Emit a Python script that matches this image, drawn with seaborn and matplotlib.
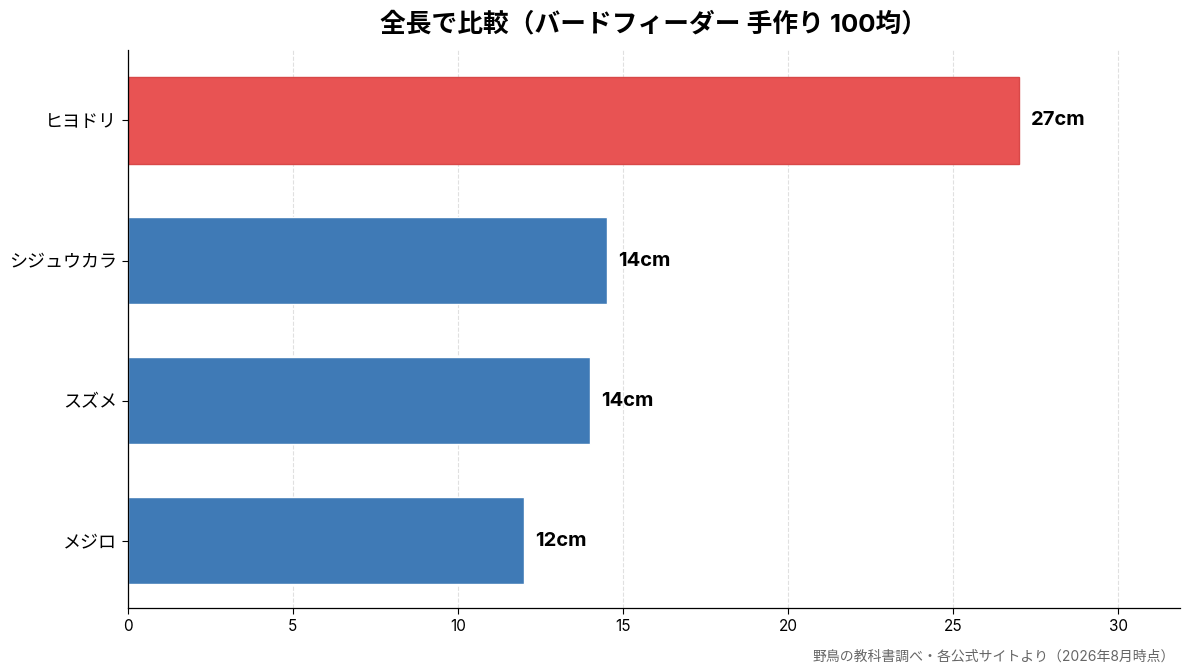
import pandas as pd
import matplotlib
matplotlib.use("Agg")
import matplotlib.pyplot as plt
import seaborn as sns

birds = ["ヒヨドリ", "シジュウカラ", "スズメ", "メジロ"]
lengths = [27, 14.5, 14, 12]
bar_colors = ["#E85353", "#3F7AB6", "#3F7AB6", "#3F7AB6"]

df = pd.DataFrame({"bird": birds, "length": lengths})

sns.set_style("white")
plt.rcParams["font.family"] = ["Inter", "Noto Sans CJK JP", "DejaVu Sans"]
plt.rcParams["text.color"] = "black"
plt.rcParams["xtick.color"] = "black"
plt.rcParams["ytick.color"] = "black"

fig, ax = plt.subplots(figsize=(11.93, 6.72), dpi=100)
fig.subplots_adjust(left=0.107, right=0.989, top=0.925, bottom=0.095)

sns.barplot(data=df, x="length", y="bird", hue="bird", palette=bar_colors,
            legend=False, width=0.62, ax=ax, saturation=1)
for p in ax.patches[:1]:
    p.set_edgecolor("#D84848")
    p.set_linewidth(1)

for i, v in enumerate(lengths):
    ax.text(v + 0.35, i, f"{v:.0f}cm", va="center", ha="left",
            fontsize=14.5, fontweight="bold", color="black")

ax.set_xlim(0, max(lengths) * 1.18)
ax.set_ylim(3.48, -0.5)
ax.set_xlabel("")
ax.set_ylabel("")
ax.xaxis.grid(True, linestyle="--", color="#e0e0e0", linewidth=0.8)
ax.set_axisbelow(True)
sns.despine(ax=ax)
ax.tick_params(axis="both", length=4, width=0.8, left=True, bottom=True)
ax.tick_params(axis="y", labelsize=13)
ax.tick_params(axis="x", labelsize=11)
for s in ["left", "bottom"]:
    ax.spines[s].set_color("black")
    ax.spines[s].set_linewidth(0.9)

ax.set_title("全長で比較（バードフィーダー 手作り 100均）", fontsize=18.5,
             fontweight="bold", pad=14, color="black")
fig.text(0.985, 0.012, "野鳥の教科書調べ・各公式サイトより（2026年8月時点）",
         ha="right", va="bottom", fontsize=10, color="#666666")

fig.savefig("out.png", dpi=100)
